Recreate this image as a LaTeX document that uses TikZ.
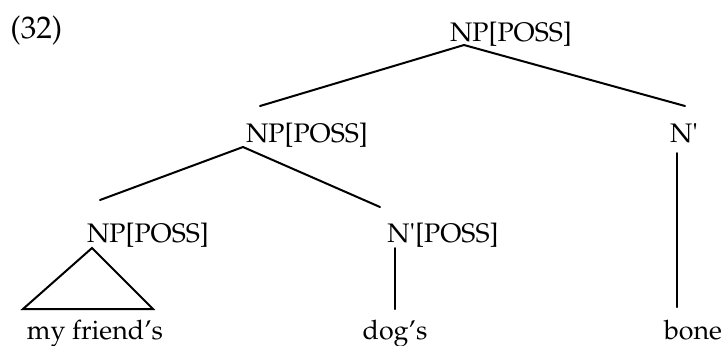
\documentclass[tikz,border=0pt]{standalone}
\usepackage[T1]{fontenc}
\usepackage{mathpazo}
\usepackage{textcomp}
\usetikzlibrary{calc}

\begin{document}
\begin{tikzpicture}[x=0.5pt,y=-0.5pt,line cap=round,
        every node/.style={inner sep=0pt,font=\fontsize{13.4}{16}\selectfont},
        branch/.style={line width=1pt}]
        \useasboundingbox (0,0) rectangle (724,345);
        % number of the example
        \node[anchor=base west,font=\fontsize{15.6}{18}\selectfont] (ex) at (10,38) {(32)};
        % labels of the tree
        \node[anchor=base] (np1) at (511,41) {NP[POSS]};
        \node[anchor=base] (np2) at (307,142) {NP[POSS]};
        \node[anchor=base] (nb1) at (684,142) {N\textquotesingle};
        \node[anchor=base] (np3) at (148,242) {NP[POSS]};
        \node[anchor=base] (nb2) at (443,242) {N\textquotesingle[POSS]};
        % words
        \node[anchor=base] (w1) at (95,339) {my friend's};
        \node[anchor=base] (w2) at (395,339) {dog's};
        \node[anchor=base] (w3) at (693,339) {bone};
        % branches
        \draw[branch] ($(np1.base)+(-47,4)$) -- ($(np2.base)+(-47,-36)$);
        \draw[branch] ($(np1.base)+(-47,4)$) -- ($(nb1.base)+(1,-36)$);
        \draw[branch] ($(np2.base)+(-64,5)$) -- ($(np3.base)+(-48,-42)$);
        \draw[branch] ($(np2.base)+(-64,5)$) -- ($(nb2.base)+(-63,-35)$);
        \draw[branch] ($(nb2.base)+(-48,6)$) -- ($(w2.base)+(0,-30)$);
        \draw[branch] ($(nb1.base)+(-7,11)$) -- ($(w3.base)+(-16,-32)$);
        % triangle over the phrase
        \draw[branch,line join=miter] ($(np3.base)+(-56,6)$) -- ($(w1.base)+(-72,-30)$)
                -- ($(w1.base)+(58,-30)$) -- cycle;
\end{tikzpicture}
\end{document}
